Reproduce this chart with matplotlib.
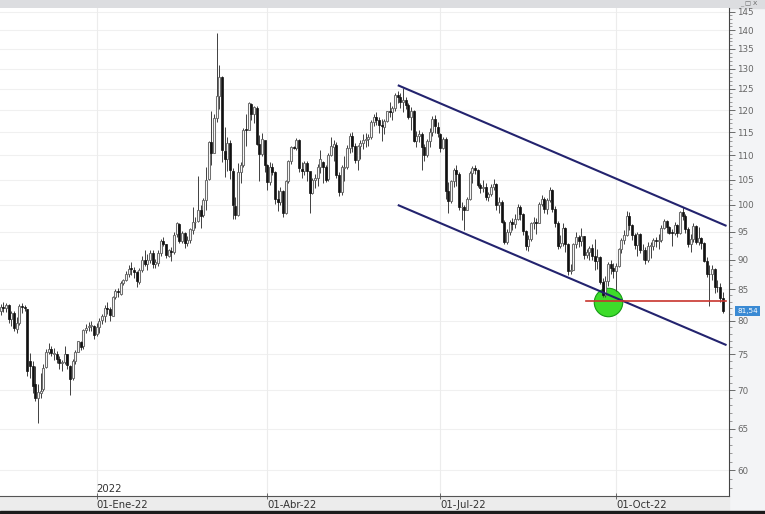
import numpy as np
import pandas as pd
import matplotlib
matplotlib.use('Agg')
import matplotlib.pyplot as plt
from matplotlib.ticker import FixedLocator, FuncFormatter, NullFormatter

# daily candles, 12-Nov-2021 .. 28-Nov-2022 (weekdays)
opens = [
    # nov 21
    81.6, 82.2, 82.0, 82.4, 80.2, 81.2, 78.8, 79.6, 82.3, 82.2, 81.9, 74.0, 73.4,
    # dec 21
    70.8, 68.9, 69.6, 70.1, 73.2, 75.4, 75.8, 75.1, 75.1, 74.3, 73.7, 73.9, 75.0, 73.4, 71.6, 74.1, 75.3, 76.8, 76.2, 78.6, 79.0, 79.2, 79.2,
    # jan 22
    78.0, 79.0, 80.1, 80.8, 81.9, 81.8, 80.8, 83.8, 84.7, 84.3, 86.0, 86.5, 87.5, 88.5, 88.3, 87.8, 86.2, 88.2, 89.9, 89.3, 89.9,
    # feb
    91.1, 89.2, 89.4, 91.1, 93.2, 92.7, 90.7, 91.5, 91.3, 94.5, 96.4, 93.2, 94.7, 93.0, 93.4, 95.3, 96.7, 97.0, 99.0, 98.0,
    # mar
    101.0, 105.1, 112.9, 110.6, 118.1, 123.2, 127.9, 111.0, 109.2, 112.7, 106.8, 99.8, 98.1, 106.6, 108.0, 115.7, 115.5, 121.5, 119.0, 120.6, 112.5, 110.3, 113.4,
    # apr
    107.9, 104.4, 107.5, 106.6, 101.1, 100.6, 102.8, 98.5, 104.6, 108.8, 111.7, 111.6, 113.2, 107.2, 106.8, 108.3, 106.7, 102.3, 105.0, 105.3, 107.6,
    # may
    108.6, 107.5, 105.1, 110.1, 111.8, 112.3, 106.0, 102.5, 107.3, 107.6, 111.5, 114.2, 111.9, 109.0, 112.0, 112.6, 113.4, 113.6, 114.0, 117.4, 118.5, 117.8,
    # jun
    116.6, 116.2, 117.6, 119.8, 119.5, 120.6, 123.6, 123.0, 122.0, 122.3, 121.2, 118.5, 119.8, 113.1, 114.1, 114.6, 111.7, 110.1, 113.1, 115.1, 118.0, 116.2,
    # jul
    114.6, 111.6, 113.5, 102.8, 100.7, 104.6, 107.0, 106.1, 99.5, 99.6, 99.1, 101.2, 106.3, 107.4, 106.9, 103.8, 103.2, 103.5, 101.6, 102.2, 103.4,
    # aug
    104.0, 100.0, 100.5, 96.8, 93.1, 94.9, 96.7, 96.3, 97.4, 99.6, 98.2, 95.1, 92.3, 93.7, 96.6, 96.7, 96.5, 100.2, 101.2, 99.3, 101.0, 102.9, 99.3,
    # sep
    96.5, 92.4, 93.0, 95.7, 92.8, 88.0, 88.2, 92.8, 94.0, 93.2, 94.1, 90.8, 91.4, 92.0, 90.6, 89.8, 90.5, 86.2, 84.1, 86.3, 89.3, 88.5,
    # oct
    88.0, 88.9, 91.8, 93.4, 94.4, 97.9, 96.2, 94.3, 92.5, 94.6, 91.6, 91.6, 90.0, 92.4, 92.4, 93.5, 93.3, 93.5, 95.7, 97.0, 95.8,
    # nov 22
    94.8, 94.7, 96.2, 94.7, 98.6, 97.9, 95.4, 92.7, 93.7, 96.0, 93.1, 93.9, 92.9, 89.8, 87.6, 87.5, 88.4, 85.4, 85.3, 83.6,
]
highs = [
    82.7, 82.9, 82.8, 82.6, 81.5, 81.6, 80.6, 82.6, 82.8, 82.5, 81.9, 75.2, 74.0,
    73.3, 70.8, 72.4, 73.6, 75.8, 76.6, 76.2, 75.9, 75.5, 74.8, 74.2, 76.2, 75.1, 73.5, 74.3, 75.6, 77.0, 76.9, 78.7, 79.5, 79.8, 79.9, 79.4,
    79.6, 80.4, 81.1, 82.4, 83.0, 82.1, 83.9, 85.0, 85.2, 86.4, 86.7, 88.1, 89.1, 89.5, 88.8, 88.0, 88.5, 90.7, 91.7, 91.0, 91.7,
    91.7, 90.1, 91.7, 93.7, 94.0, 92.8, 91.9, 92.2, 95.0, 96.8, 96.6, 95.1, 95.0, 94.2, 95.7, 99.5, 97.7, 105.8, 100.0, 101.3,
    107.5, 113.0, 119.8, 119.0, 139.1, 131.0, 128.1, 116.2, 113.9, 113.2, 107.4, 101.6, 108.3, 108.6, 116.0, 119.0, 122.0, 121.6, 121.0, 120.9, 114.4, 114.9, 112.8,
    108.2, 108.5, 108.3, 106.8, 102.9, 103.4, 102.9, 104.9, 109.1, 111.9, 112.0, 113.7, 113.5, 108.7, 108.8, 108.9, 106.3, 105.3, 106.2, 108.1, 111.1,
    108.9, 108.0, 110.4, 114.0, 113.2, 112.9, 106.5, 107.9, 109.8, 112.2, 114.8, 115.0, 112.7, 112.2, 113.4, 114.5, 114.9, 114.6, 117.7, 119.0, 119.6, 118.4,
    118.0, 118.0, 119.9, 121.9, 121.0, 124.0, 124.4, 124.0, 125.2, 123.0, 121.6, 120.8, 120.1, 115.3, 115.4, 115.1, 112.4, 113.5, 115.9, 118.7, 118.8, 117.2,
    114.9, 113.9, 113.9, 104.4, 105.0, 107.3, 107.9, 106.6, 100.6, 99.9, 101.6, 106.8, 107.7, 108.0, 107.2, 104.2, 105.0, 104.2, 102.6, 104.0, 105.2,
    104.3, 101.6, 101.0, 97.1, 95.5, 97.2, 97.5, 98.3, 100.1, 100.0, 98.4, 95.3, 94.4, 96.8, 97.7, 97.5, 100.6, 102.0, 101.5, 101.3, 103.4, 103.1, 99.7,
    96.9, 94.3, 96.6, 95.9, 93.0, 89.3, 93.0, 95.0, 94.4, 95.6, 94.2, 91.9, 92.3, 92.7, 93.6, 91.9, 90.7, 86.8, 87.2, 89.6, 89.9, 89.4,
    89.4, 92.0, 93.9, 95.2, 98.8, 98.7, 96.4, 94.8, 95.0, 94.7, 92.8, 92.2, 93.1, 93.1, 93.8, 94.0, 94.5, 96.2, 97.3, 97.1, 96.0,
    95.4, 96.7, 96.3, 98.8, 99.6, 98.3, 95.8, 94.6, 96.5, 96.2, 95.8, 94.0, 93.1, 90.4, 89.0, 89.1, 88.6, 86.5, 86.1, 84.6,
]
lows = [
    80.9, 81.4, 81.3, 79.7, 79.2, 78.4, 78.2, 79.3, 81.2, 81.6, 72.0, 71.6, 69.6,
    68.6, 65.7, 68.9, 69.9, 73.0, 75.0, 74.8, 74.2, 73.7, 72.9, 72.7, 73.6, 72.9, 69.3, 71.4, 73.6, 75.3, 75.7, 75.8, 78.1, 78.4, 78.5, 77.3,
    77.7, 78.2, 79.5, 79.8, 81.1, 79.9, 80.7, 83.5, 83.8, 84.1, 85.7, 86.3, 87.0, 87.4, 86.8, 85.4, 85.8, 87.9, 88.9, 88.2, 89.4,
    88.6, 88.5, 88.9, 90.7, 92.3, 90.3, 90.4, 89.7, 90.9, 94.0, 92.9, 92.9, 92.0, 92.4, 93.0, 94.6, 95.6, 96.8, 95.6, 97.6,
    99.1, 105.0, 108.0, 110.4, 117.2, 120.2, 108.6, 105.6, 106.8, 105.2, 97.4, 97.3, 97.9, 104.3, 107.5, 112.1, 115.4, 117.7, 117.1, 112.3, 104.6, 109.8, 106.5,
    102.9, 103.9, 106.0, 100.2, 98.8, 99.9, 97.6, 98.2, 104.3, 108.1, 111.3, 111.1, 106.5, 105.3, 105.9, 104.6, 98.5, 102.1, 103.3, 103.7, 106.3,
    104.3, 104.4, 104.7, 109.8, 108.8, 105.3, 101.7, 101.9, 104.6, 107.1, 110.5, 110.8, 108.4, 107.0, 109.3, 111.4, 111.7, 112.1, 113.5, 116.5, 116.7, 114.8,
    113.0, 114.5, 117.4, 118.5, 117.8, 119.8, 121.6, 120.6, 119.6, 120.3, 117.9, 115.6, 112.9, 111.8, 112.9, 107.0, 108.8, 109.6, 111.8, 114.2, 114.9, 113.9,
    110.7, 111.3, 101.1, 98.5, 100.4, 103.5, 103.6, 99.1, 97.2, 95.3, 99.0, 101.0, 104.2, 106.2, 103.5, 102.3, 102.6, 101.0, 100.7, 101.8, 102.9,
    99.1, 98.5, 96.5, 92.8, 92.8, 94.3, 95.2, 95.7, 97.2, 97.2, 94.4, 91.6, 91.5, 93.3, 95.4, 94.6, 96.8, 99.8, 98.4, 98.2, 100.6, 98.6, 95.9,
    91.8, 92.0, 92.3, 91.4, 87.4, 87.6, 88.2, 92.0, 92.2, 92.3, 90.1, 90.3, 89.9, 89.9, 88.3, 88.4, 85.8, 83.7, 83.7, 85.6, 87.5, 86.9,
    84.8, 88.8, 91.1, 92.8, 94.2, 95.2, 93.5, 91.8, 90.7, 91.2, 90.0, 89.3, 89.6, 90.2, 91.6, 92.2, 91.8, 93.1, 95.4, 94.8, 94.5,
    92.4, 94.3, 94.0, 94.6, 97.1, 94.7, 92.2, 91.4, 93.1, 92.7, 92.5, 91.9, 89.5, 87.1, 82.3, 86.5, 84.4, 84.6, 83.0, 81.2,
]
closes = [
    82.2, 82.0, 82.4, 80.3, 81.2, 78.9, 79.7, 82.3, 82.2, 82.0, 72.7, 73.4, 70.6,
    68.9, 69.7, 69.9, 73.1, 75.4, 75.8, 75.2, 75.2, 74.4, 73.7, 73.9, 75.0, 73.5, 71.5, 74.0, 75.3, 76.9, 76.1, 78.6, 78.9, 79.2, 79.3, 77.8,
    79.0, 80.0, 80.8, 82.0, 81.8, 80.9, 83.7, 84.7, 84.5, 86.1, 86.5, 87.5, 88.4, 88.4, 87.9, 86.3, 88.2, 90.0, 89.3, 90.0, 91.2,
    89.2, 89.5, 91.1, 93.3, 92.7, 90.8, 91.6, 91.4, 94.4, 96.5, 93.3, 94.8, 93.0, 93.5, 95.4, 96.8, 96.8, 99.1, 97.9, 101.0,
    105.0, 112.9, 110.5, 118.1, 123.2, 128.0, 111.1, 109.3, 112.7, 106.9, 99.9, 98.0, 106.6, 107.9, 115.6, 115.5, 121.6, 119.0, 120.7, 112.5, 110.2, 113.5, 107.9,
    104.4, 107.5, 106.6, 101.1, 100.6, 102.8, 98.5, 104.6, 108.8, 111.7, 111.6, 113.2, 107.3, 106.8, 108.3, 106.7, 102.3, 105.0, 105.3, 107.6, 109.3,
    107.6, 105.0, 110.1, 111.9, 112.4, 105.9, 102.5, 107.5, 107.5, 111.6, 114.2, 111.9, 109.1, 112.0, 112.6, 113.4, 113.6, 114.0, 117.4, 118.5, 117.8, 116.6,
    116.3, 117.6, 119.7, 119.5, 120.6, 123.6, 123.1, 122.0, 122.3, 121.2, 118.5, 119.8, 113.1, 114.1, 114.7, 111.7, 110.1, 113.1, 115.1, 118.0, 116.3, 114.8,
    111.6, 113.5, 102.8, 100.7, 104.7, 107.0, 106.1, 99.5, 99.6, 99.1, 101.2, 106.3, 107.4, 106.9, 103.9, 103.2, 103.5, 101.6, 102.2, 103.4, 104.0,
    100.0, 100.5, 96.8, 93.1, 94.9, 96.7, 96.3, 97.4, 99.6, 98.2, 95.1, 92.3, 93.7, 96.6, 96.7, 96.5, 100.2, 101.2, 99.3, 101.0, 102.9, 99.3, 96.5,
    92.4, 93.0, 95.7, 92.8, 88.0, 88.2, 92.8, 94.0, 93.2, 94.1, 90.8, 91.4, 92.0, 90.6, 89.8, 90.5, 86.2, 84.1, 86.3, 89.3, 88.5, 88.0,
    88.9, 91.8, 93.4, 94.4, 97.9, 96.2, 94.3, 92.5, 94.6, 91.6, 91.6, 90.0, 92.4, 92.4, 93.5, 93.3, 93.5, 95.7, 97.0, 95.8, 94.8,
    94.7, 96.2, 94.7, 98.6, 97.9, 95.4, 92.7, 93.7, 96.0, 93.1, 93.9, 92.9, 89.8, 87.6, 87.5, 88.4, 85.4, 85.3, 83.6, 81.54,
]

quarter_starts = ['2022-01-01', '2022-04-01', '2022-07-01', '2022-10-01']
quarter_labels = ['01-Ene-22', '01-Abr-22', '01-Jul-22', '01-Oct-22']
price_ticks = list(range(60, 150, 5))

# drawn channel (index, price) and support level
upper_line = ([149.4, 272.1], [125.8, 96.1])
lower_line = ([149.4, 272.1], [99.9, 76.4])
support_line = ([219.6, 272.1], [83.1, 83.1])
marker_pt = (227.8, 82.9)
last_price = 81.54


def main():
    o = np.array(opens)
    h = np.array(highs)
    l = np.array(lows)
    c = np.array(closes)
    n = len(c)
    dates = pd.bdate_range('2021-11-12', periods=n)
    x = np.arange(n)

    fig = plt.figure(figsize=(7.65, 5.14), dpi=100)
    fig.patch.set_facecolor('#f3f4f6')
    # window bar on top, date strip and dark strip at bottom
    for rect, col in [((0, 0.984, 1, 0.016), '#dcdde0'),
                      ((0, 0.006, 0.953, 0.029), '#ececec'),
                      ((0, 0, 1, 0.006), '#1c1c1c')]:
        fig.add_artist(plt.Rectangle(rect[:2], rect[2], rect[3], transform=fig.transFigure,
                                     color=col, zorder=-5))
    fig.text(0.99, 0.999, '_ □ X', fontsize=4.5, ha='right', va='top', color='#666')

    ax = fig.add_axes([0.0, 0.035, 0.953, 0.949])
    ax.set_zorder(2)
    ax.set_facecolor('white')
    ax.set_yscale('log')

    ax.vlines(x, l, h, color='#404040', lw=0.7, zorder=3)
    bottom = np.minimum(o, c)
    height = np.maximum(np.abs(c - o), 0.12)
    up = c >= o
    ax.bar(x[up], height[up], bottom=bottom[up], width=0.75, color='#fbfbfb',
           edgecolor='#707070', lw=0.75, zorder=4)
    ax.bar(x[~up], height[~up], bottom=bottom[~up], width=0.75, color='#111111',
           edgecolor='#111111', lw=0.5, zorder=4)

    ax.plot(*upper_line, color='#23236e', lw=1.5, zorder=5)
    ax.plot(*lower_line, color='#23236e', lw=1.5, zorder=5)
    ax.plot(*support_line, color='#c8352e', lw=1.2, zorder=5)
    ax.scatter([marker_pt[0]], [marker_pt[1]], s=420, color='#3ddc2a',
               edgecolor='#139a13', lw=0.8, zorder=2)

    ax.set_xlim(-0.3, 273.4)
    ax.set_ylim(57.1, 146.0)

    # axis formatting
    ax.yaxis.tick_right()
    ax.yaxis.set_major_locator(FixedLocator(price_ticks))
    ax.yaxis.set_major_formatter(FuncFormatter(lambda v, p: '%d' % v))
    ax.yaxis.set_minor_locator(FixedLocator(range(58, 146)))
    ax.yaxis.set_minor_formatter(NullFormatter())
    ax.tick_params(axis='y', which='major', length=4, width=0.6, color='#555',
                   labelsize=6.3, labelcolor='#666', pad=2)
    ax.tick_params(axis='y', which='minor', length=2, width=0.5, color='#777')

    qpos = [int(np.argmax(dates >= pd.Timestamp(d))) for d in quarter_starts]
    ax.set_xticks(qpos)
    ax.set_xticklabels(quarter_labels, ha='left')
    ax.tick_params(axis='x', length=4, width=0.6, color='#555', direction='inout',
                   labelsize=7.3, labelcolor='#333', pad=1)
    ax.text(qpos[0], 0.004, '2022', transform=ax.get_xaxis_transform(),
            fontsize=7.3, color='#333', ha='left', va='bottom')

    for v in price_ticks:
        ax.axhline(v, color='#f0f0f0', lw=0.8, zorder=1)
    for p in qpos:
        ax.axvline(p, color='#ececec', lw=0.8, zorder=1)

    for s in ['top', 'left']:
        ax.spines[s].set_visible(False)
    ax.spines['right'].set_color('#444')
    ax.spines['bottom'].set_color('#555')
    ax.spines['right'].set_linewidth(0.8)
    ax.spines['bottom'].set_linewidth(0.8)

    ax.annotate('81,54', xy=(1.0, last_price),
                xycoords=('axes fraction', 'data'), xytext=(6, 0),
                textcoords='offset points', fontsize=5.2, color='white',
                va='center', ha='left',
                bbox=dict(boxstyle='square,pad=0.3', fc='#3a8ad4', ec='none'))

    fig.savefig('out.png', dpi=100, facecolor=fig.get_facecolor())
    plt.close()


if __name__ == '__main__':
    main()
